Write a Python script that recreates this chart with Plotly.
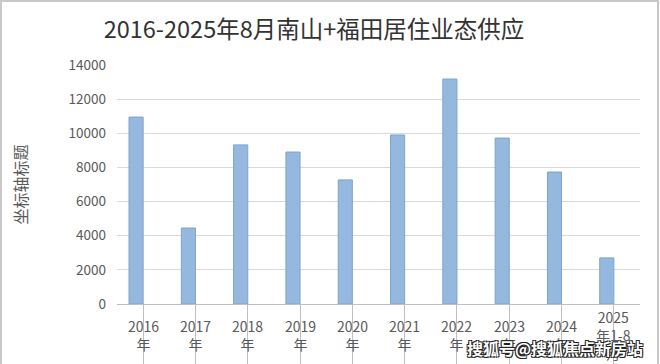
import plotly.graph_objects as go

categories = ["2016<br>年", "2017<br>年", "2018<br>年", "2019<br>年", "2020<br>年",
              "2021<br>年", "2022<br>年", "2023<br>年", "2024<br>年", "2025<br>年1-8<br>月"]
values = [10950, 4450, 9320, 8900, 7270, 9900, 13180, 9720, 7730, 2700]
y_ticks = [0, 2000, 4000, 6000, 8000, 10000, 12000, 14000]
y_tick_labels = [str(v) for v in y_ticks]

W, H = 660, 364
ML, MR, MT, MB = 117, 20, 65, 60
PW, PH = W - ML - MR, H - MT - MB

FONT = "Noto Sans CJK SC"

fig = go.Figure()
fig.add_trace(go.Bar(
    x=list(range(len(categories))), y=values,
    width=0.27, offset=-0.27,
    marker=dict(color="#94b8de", line=dict(color="#7ea3cc", width=1)),
    showlegend=False,
))

annotations = []
for i, c in enumerate(categories):
    annotations.append(dict(
        x=i, xref="x", y=-31 / PH, yref="paper", text=c, showarrow=False,
        xanchor="center", yanchor="middle", align="center",
        font=dict(family=FONT, size=14, color="#595959"),
    ))
annotations.append(dict(
    x=1 + 5 / PW, xref="paper", y=-44 / PH, yref="paper",
    text="<b>搜狐号@搜狐焦点新房站</b>", showarrow=False,
    xanchor="right", yanchor="middle",
    font=dict(family=FONT, size=16, color="white",
              shadow="-1px -1px 0 #222, 1px -1px 0 #222, -1px 1px 0 #222, 1px 1px 0 #222"),
))

fig.update_layout(
    width=W, height=H,
    margin=dict(l=ML, r=MR, t=MT, b=MB, autoexpand=False),
    paper_bgcolor="white", plot_bgcolor="white",
    title=dict(text="2016-2025年8月南山+福田居住业态供应",
               x=(314 - ML) / PW, xref="paper",
               y=1 - 30 / H, yanchor="middle", xanchor="center",
               font=dict(family=FONT, size=23.5, color="#333333")),
    xaxis=dict(
        tickmode="array", tickvals=list(range(len(categories))),
        ticktext=[""] * len(categories),
        range=[-0.5, len(categories) - 0.5],
        ticks="outside", tickson="boundaries", ticklen=60, tickcolor="#bfbfbf",
        tickwidth=1, showline=True, linecolor="#bfbfbf", linewidth=1,
        showgrid=False, zeroline=False, automargin=False,
    ),
    yaxis=dict(
        range=[0, 14000], tickmode="array", tickvals=y_ticks, ticktext=y_tick_labels,
        showgrid=True, gridcolor="#d9d9d9",
        gridwidth=1, zeroline=False, showline=False, ticks="",
        tickfont=dict(family=FONT, size=13.5, color="#595959"),
        ticklabelstandoff=10, automargin=False,
        title=dict(text="坐标轴标题", standoff=36,
                   font=dict(family=FONT, size=16, color="#595959")),
    ),
    annotations=annotations,
    shapes=[dict(type="rect", xref="paper", yref="paper",
                 x0=-(ML - 1) / PW, x1=1 + (MR - 2) / PW,
                 y0=-(MB + 5) / PH, y1=1 + (MT - 1) / PH,
                 line=dict(color="#c8c8c8", width=2), layer="below")],
)

fig.write_html("out.html")
